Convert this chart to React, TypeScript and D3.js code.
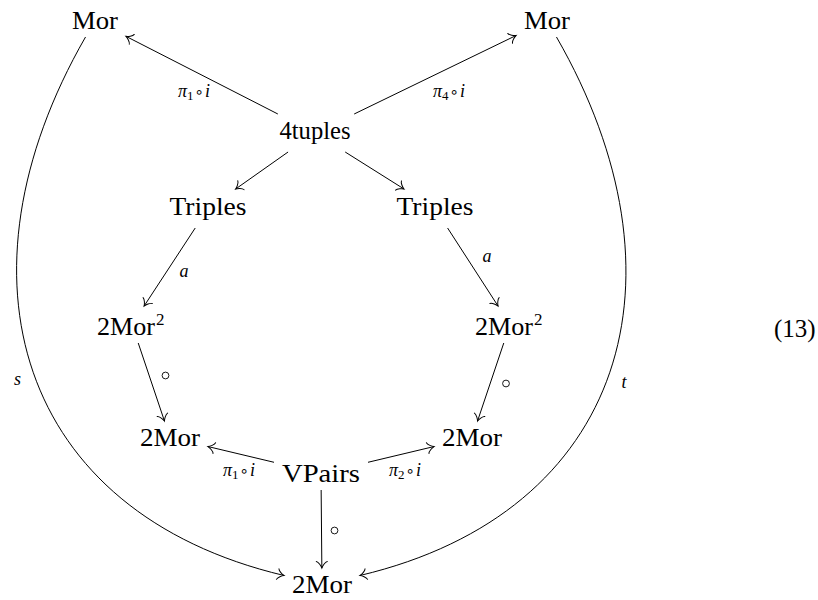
import React, { useEffect, useRef } from "react";
import * as d3 from "d3";

// nodes of the diagram (text centre x, baseline, text width, height above / below baseline)
const nodeIds = ["morL", "morR", "four", "triL", "triR", "mor2L", "mor2R", "twoL", "twoR", "vpairs", "twoB"];
const nodeLabels = ["Mor", "Mor", "4tuples", "Triples", "Triples", "2Mor", "2Mor", "2Mor", "2Mor", "VPairs", "2Mor"];
const nodeSup = ["", "", "", "", "", "2", "2", "", "", "", ""];
const nodeX = [95, 547, 315, 208, 435, 132, 510, 170, 472, 321, 322];
const nodeBase = [29, 29, 139, 215, 215, 335, 335, 446, 446, 482, 593];
const nodeWidth = [46, 46, 71, 77, 77, 70, 70, 60, 60, 78, 60];
const nodeHeight = [17, 17, 17, 18, 18, 21, 21, 17, 17, 17, 17];
const nodeDepth = [0, 0, 5, 5, 5, 0, 0, 0, 0, 0, 0];

// straight arrows
const edgeFrom = ["four", "four", "four", "four", "triL", "triR", "mor2L", "mor2R", "vpairs", "vpairs", "vpairs"];
const edgeTo = ["morL", "morR", "triL", "triR", "mor2L", "mor2R", "twoL", "twoR", "twoL", "twoR", "twoB"];
const edgeLabel = ["π_1∘i", "π_4∘i", "", "", "a", "a", "∘", "∘", "π_1∘i", "π_2∘i", "∘"];
const edgeLabelX = [194, 449, 0, 0, 184, 487, 165.5, 506, 239, 405, 334.5];
const edgeLabelY = [97, 97, 0, 0, 277, 262, 375.5, 383.5, 476, 476, 530.5];

// bent arrows s and t
const curveFrom = ["morL", "morR"];
const curveTo = ["twoB", "twoB"];
const curveOut = [[-0.5, 0.87], [0.5, 0.87]];
const curveIn = [[-0.97, -0.23], [0.97, -0.23]];
const curveLabel = ["s", "t"];
const curveLabelX = [17.5, 624];
const curveLabelY = [385, 388];

const eqLabel = "(13)";

const PAD = 8;

const App: React.FC = () => {
  const svgRef = useRef<SVGSVGElement>(null);

  useEffect(() => {
    const svg = d3.select(svgRef.current!);
    svg.selectAll("*").remove();

    const nodes = nodeIds.map((id, i) => ({
      id,
      label: nodeLabels[i],
      sup: nodeSup[i],
      x: nodeX[i],
      base: nodeBase[i],
      w: nodeWidth[i],
      x0: nodeX[i] - nodeWidth[i] / 2 - PAD,
      x1: nodeX[i] + nodeWidth[i] / 2 + PAD,
      y0: nodeBase[i] - nodeHeight[i] - PAD,
      y1: nodeBase[i] + nodeDepth[i] + PAD,
    }));
    const byId = new Map(nodes.map((n) => [n.id, n]));
    const centre = (n: any) => [(n.x0 + n.x1) / 2, (n.y0 + n.y1) / 2];

    // point where a ray from the node centre leaves its box
    const border = (n: any, dx: number, dy: number) => {
      const [cx, cy] = centre(n);
      let t = Infinity;
      if (dx > 0) t = Math.min(t, (n.x1 - cx) / dx);
      if (dx < 0) t = Math.min(t, (n.x0 - cx) / dx);
      if (dy > 0) t = Math.min(t, (n.y1 - cy) / dy);
      if (dy < 0) t = Math.min(t, (n.y0 - cy) / dy);
      return [cx + t * dx, cy + t * dy];
    };

    svg
      .append("defs")
      .append("marker")
      .attr("id", "tip")
      .attr("markerUnits", "userSpaceOnUse")
      .attr("orient", "auto")
      .attr("viewBox", "-9 -7 11 14")
      .attr("markerWidth", 11)
      .attr("markerHeight", 14)
      .attr("refX", 0)
      .attr("refY", 0)
      .append("path")
      .attr("d", "M-6.5,-5.5 C-6,-3.2 -1.8,-0.6 0,0 C-1.8,0.6 -6,3.2 -6.5,5.5")
      .attr("fill", "none")
      .attr("stroke", "#000")
      .attr("stroke-width", 1)
      .attr("stroke-linecap", "round");

    const g = svg.append("g");

    // straight edges
    const lines = edgeFrom.map((f, i) => {
      const a = byId.get(f)!;
      const b = byId.get(edgeTo[i])!;
      const [ax, ay] = centre(a);
      const [bx, by] = centre(b);
      const p = border(a, bx - ax, by - ay);
      const q = border(b, ax - bx, ay - by);
      return [p, q];
    });
    g.selectAll(".edge")
      .data(lines)
      .join("path")
      .attr("class", "edge")
      .attr("d", (d) => d3.line()(d as [number, number][]))
      .attr("fill", "none")
      .attr("stroke", "#000")
      .attr("stroke-width", 1)
      .attr("marker-end", "url(#tip)");

    // curved edges
    const curves = curveFrom.map((f, i) => {
      const a = byId.get(f)!;
      const b = byId.get(curveTo[i])!;
      const p = border(a, curveOut[i][0], curveOut[i][1]);
      const q = border(b, curveIn[i][0], curveIn[i][1]);
      const len = 275;
      const path = d3.path();
      path.moveTo(p[0], p[1]);
      path.bezierCurveTo(
        p[0] + len * curveOut[i][0],
        p[1] + len * curveOut[i][1],
        q[0] + len * curveIn[i][0],
        q[1] + len * curveIn[i][1],
        q[0],
        q[1]
      );
      return path.toString();
    });
    g.selectAll(".curve")
      .data(curves)
      .join("path")
      .attr("class", "curve")
      .attr("d", (d) => d)
      .attr("fill", "none")
      .attr("stroke", "#000")
      .attr("stroke-width", 1)
      .attr("marker-end", "url(#tip)");

    const font = "Liberation Serif, DejaVu Serif, serif";

    // node texts
    nodes.forEach((n) => {
      const supW = n.sup ? 12 : 0;
      const mainW = n.w - supW;
      const left = n.x - n.w / 2;
      g.append("text")
        .attr("x", left)
        .attr("y", n.base)
        .style("font-family", font)
        .attr("font-size", 25)
        .attr("textLength", mainW)
        .attr("lengthAdjust", "spacingAndGlyphs")
        .text(n.label);
      if (n.sup) {
        g.append("text")
          .attr("x", left + mainW + 1)
          .attr("y", n.base - 10)
          .style("font-family", font)
          .attr("font-size", 17)
          .text(n.sup);
      }
    });

    // edge labels
    const drawLabel = (s: string, x: number, y: number) => {
      if (!s) return;
      if (s === "∘") {
        g.append("circle")
          .attr("cx", x)
          .attr("cy", y)
          .attr("r", 3.4)
          .attr("fill", "none")
          .attr("stroke", "#000")
          .attr("stroke-width", 0.9);
        return;
      }
      const t = g
        .append("text")
        .attr("x", x)
        .attr("y", y)
        .attr("text-anchor", "middle")
        .style("font-family", font)
        .attr("font-size", 18);
      const m = s.match(/^(π)_(\d)(∘)(i)$/);
      if (m) {
        t.append("tspan").attr("font-style", "italic").text(m[1]);
        t.append("tspan").attr("font-size", 13).attr("dy", 3).text(m[2]);
        t.append("tspan")
          .attr("dy", -3)
          .attr("dx", 1)
          .style("font-family", "DejaVu Sans, sans-serif")
          .attr("font-size", 15)
          .text(m[3]);
        t.append("tspan").attr("font-style", "italic").attr("dx", 1).text(m[4]);
      } else {
        t.attr("font-style", "italic").text(s);
      }
    };
    edgeLabel.forEach((s, i) => drawLabel(s, edgeLabelX[i], edgeLabelY[i]));
    curveLabel.forEach((s, i) => drawLabel(s, curveLabelX[i], curveLabelY[i]));

    g.append("text")
      .attr("x", 774)
      .attr("y", 337)
      .style("font-family", font)
      .attr("font-size", 25)
      .text(eqLabel);
  }, []);

  return (
    <svg
      ref={svgRef}
      width={818}
      height={600}
      style={{ position: "absolute", left: 0, top: 0, background: "#fff" }}
    />
  );
};

export default App;
